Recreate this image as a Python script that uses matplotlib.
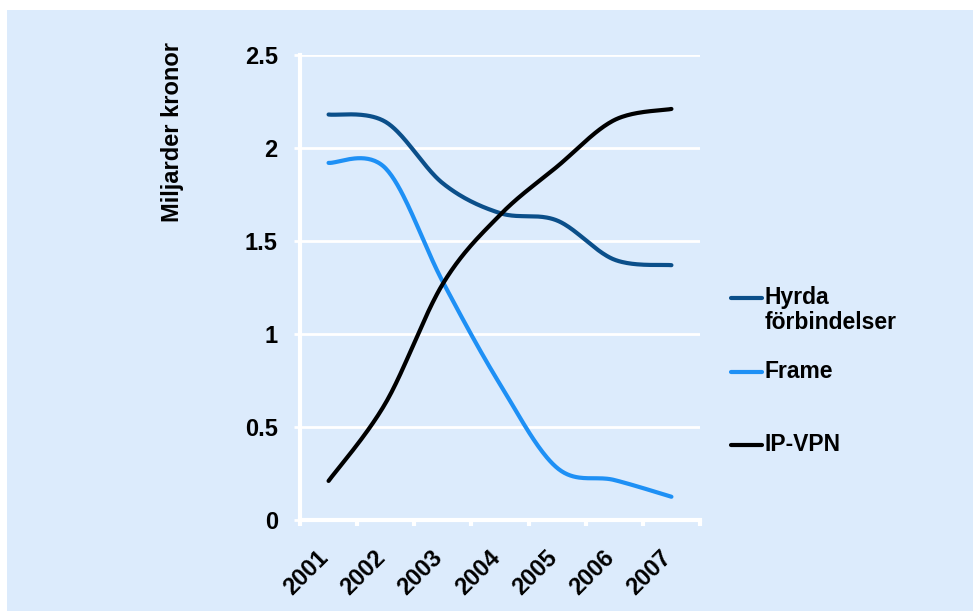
import numpy as np
import matplotlib
matplotlib.use("Agg")
import matplotlib.pyplot as plt
from matplotlib.lines import Line2D
from matplotlib.patches import Rectangle
from matplotlib.transforms import ScaledTranslation

# Market size per service, billions of SEK
years = ["2001", "2002", "2003", "2004", "2005", "2006", "2007"]
hyrda = [2.18, 2.14, 1.81, 1.65, 1.61, 1.40, 1.37]
frame = [1.92, 1.89, 1.28, 0.73, 0.28, 0.215, 0.125]
ipvpn = [0.21, 0.63, 1.27, 1.64, 1.90, 2.15, 2.21]
series_labels = ["Hyrda\nförbindelser", "Frame", "IP-VPN"]
series_colors = ["#0B4F8A", "#1E90F5", "#000000"]
y_ticks = [0, 0.5, 1, 1.5, 2, 2.5]
y_tick_labels = ["0", "0.5", "1", "1.5", "2", "2.5"]

BG = "#DCEBFC"
W, H = 973, 611
plt.rcParams["font.family"] = ["Liberation Sans", "DejaVu Sans"]
plt.rcParams["font.weight"] = "bold"


def smooth(values, n=40):
    """Bezier smoothing through every point (spreadsheet-style smoothed line)."""
    P = np.column_stack([np.arange(len(values), dtype=float), np.asarray(values, float)])
    out = []
    t = np.linspace(0, 1, n)[:, None]
    for i in range(len(P) - 1):
        p_prev = P[i - 1] if i > 0 else P[i]
        p_next = P[i + 2] if i + 2 < len(P) else P[i + 1]
        c1 = P[i] + (P[i + 1] - p_prev) / 6
        c2 = P[i + 1] - (p_next - P[i]) / 6
        seg = ((1 - t) ** 3) * P[i] + 3 * ((1 - t) ** 2) * t * c1 \
            + 3 * (1 - t) * t ** 2 * c2 + t ** 3 * P[i + 1]
        out.append(seg if i == 0 else seg[1:])
    pts = np.vstack(out)
    return pts[:, 0], pts[:, 1]


fig = plt.figure(figsize=(W / 100, H / 100), dpi=100)
fig.patch.set_facecolor("white")
fig.add_artist(Rectangle((7 / W, 0), 1, 1 - 10 / H, transform=fig.transFigure,
                         facecolor=BG, edgecolor="none", zorder=0))

ax = fig.add_axes([300 / W, 91 / H, 400 / W, 465 / H])
ax.set_facecolor(BG)

for vals, col in zip([hyrda, frame, ipvpn], series_colors):
    xs, ys = smooth(vals)
    ax.plot(xs, ys, color=col, lw=3.0, solid_capstyle="round", zorder=3)

ax.set_xlim(-0.5, len(years) - 0.5)
ax.set_ylim(0, 2.5)

ax.set_yticks(y_ticks)
ax.set_yticklabels(y_tick_labels, fontsize=17, fontweight="bold")
ax.yaxis.grid(True, color="white", lw=2)
ax.set_axisbelow(True)

ax.set_xticks(range(len(years)))
ax.set_xticklabels(years, rotation=45, ha="right", va="top",
                   fontsize=17, fontweight="bold")
ax.set_xticks(np.arange(-0.5, len(years), 1.0), minor=True)
ax.tick_params(axis="x", which="major", length=0, pad=19)
ax.tick_params(axis="x", which="minor", length=4, width=3, color="white")
ax.tick_params(axis="y", length=4, width=2, color="white", pad=12)
shift = ScaledTranslation(0.045, 0, fig.dpi_scale_trans)
for lab in ax.get_xticklabels():
    lab.set_transform(lab.get_transform() + shift)

for s in ["top", "right"]:
    ax.spines[s].set_visible(False)
for s in ["left", "bottom"]:
    ax.spines[s].set_color("white")
    ax.spines[s].set_linewidth(3)

fig.text(173 / W, 1 - 132 / H, "Miljarder kronor", rotation=90,
         ha="center", va="center", fontsize=17, fontweight="bold")

# Legend on the right
legend_rows = [298, 372, 445]
for lab, col, yy in zip(series_labels, series_colors, legend_rows):
    fy = 1 - yy / H
    fig.add_artist(Line2D([731 / W, 762 / W], [fy, fy], transform=fig.transFigure,
                          color=col, lw=3.0, solid_capstyle="round"))
    fig.text(765 / W, 1 - (yy - 12) / H, lab, ha="left", va="top",
             fontsize=16.5, fontweight="bold", linespacing=1.12)

fig.savefig("out.png", dpi=100, facecolor=fig.get_facecolor())
